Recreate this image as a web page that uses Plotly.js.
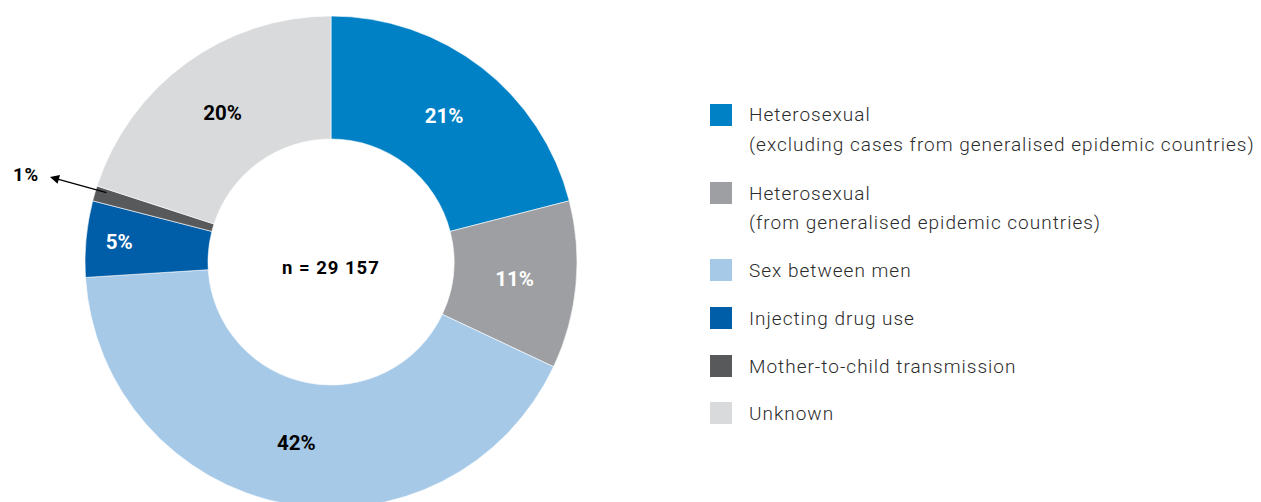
<!DOCTYPE html>
<html>
<head>
<meta charset="utf-8">
<script src="https://cdn.plot.ly/plotly-3.0.1.min.js"></script>
<style>
html,body{margin:0;padding:0;overflow:hidden;background:#fff;}
#chart{width:1261px;height:524px;}
#chart g.annotation text{letter-spacing:1px;}
</style>
</head>
<body>
<div id="chart"></div>
<script>
var categories = [
  ['Heterosexual', '(excluding cases from generalised epidemic countries)'],
  ['Heterosexual', '(from generalised epidemic countries)'],
  ['Sex between men'],
  ['Injecting drug use'],
  ['Mother-to-child transmission'],
  ['Unknown']
];
var values = [21, 11, 42, 5, 1, 20];
var colors = ['#0081C6', '#9D9FA2', '#A6C9E8', '#005DA8', '#58595B', '#D9DADB'];
var textColors = ['#ffffff', '#ffffff', '#000000', '#ffffff', '#000000', '#000000'];
var centerText = 'n = 29 157';

var W = 1261, H = 524;
function px(x){ return x / W; }
function py(y){ return 1 - y / H; }

var labelsFlat = categories.map(function(c){ return c.join(' '); });
var texts = values.map(function(v, i){ return i === 4 ? '' : v + '%'; });

var trace = {
  type: 'pie',
  labels: labelsFlat,
  values: values,
  text: texts,
  textinfo: 'text',
  textposition: 'inside',
  insidetextorientation: 'horizontal',
  hole: 0.5,
  sort: false,
  direction: 'clockwise',
  rotation: 0,
  marker: { colors: colors, line: { color: '#ffffff', width: 0.6 } },
  insidetextfont: { family: 'Roboto, Arial, sans-serif', size: 20.5, weight: 700, color: textColors },
  domain: { x: [px(85), px(577)], y: [py(508), py(16)] },
  showlegend: false,
  hoverinfo: 'label+percent'
};

var annotations = [];
var shapes = [];

// center text
annotations.push({
  x: px(331), y: py(268), xref: 'paper', yref: 'paper',
  text: '<b>' + centerText + '</b>', showarrow: false,
  font: { family: 'Roboto, Arial, sans-serif', size: 18.5, color: '#000' },
  xanchor: 'center', yanchor: 'middle'
});

// 1% outside label with arrow
annotations.push({
  x: px(26), y: py(175), xref: 'paper', yref: 'paper',
  text: '<b>' + values[4] + '%</b>', showarrow: false,
  font: { family: 'Roboto, Arial, sans-serif', size: 18.5, color: '#000' },
  xanchor: 'center', yanchor: 'middle'
});
annotations.push({
  x: px(50), y: py(177), xref: 'paper', yref: 'paper',
  ax: 58, ay: 16, text: '', showarrow: true,
  arrowhead: 2, arrowsize: 1.3, arrowwidth: 1.4, arrowcolor: '#000'
});

// custom legend
var legendY = [115, 193, 270, 318, 366, 413];
var lineGap = 29;
categories.forEach(function(lines, i){
  var yc = legendY[i];
  shapes.push({
    type: 'rect', xref: 'paper', yref: 'paper',
    x0: px(710), x1: px(732), y0: py(yc + 11), y1: py(yc - 11),
    fillcolor: colors[i], line: { width: 0 }
  });
  lines.forEach(function(t, j){
    annotations.push({
      x: px(747), y: py(yc + j * lineGap), xref: 'paper', yref: 'paper',
      text: t, showarrow: false, xanchor: 'left', yanchor: 'middle', align: 'left',
      font: { family: 'Roboto, Arial, sans-serif', size: 19, weight: 300, color: '#2b2b2b' }
    });
  });
});

var layout = {
  width: W, height: H,
  margin: { l: 0, r: 0, t: 0, b: 0 },
  paper_bgcolor: '#ffffff',
  plot_bgcolor: '#ffffff',
  showlegend: false,
  annotations: annotations,
  shapes: shapes
};

Plotly.newPlot('chart', [trace], layout, { displayModeBar: false, staticPlot: true });
</script>
</body>
</html>
